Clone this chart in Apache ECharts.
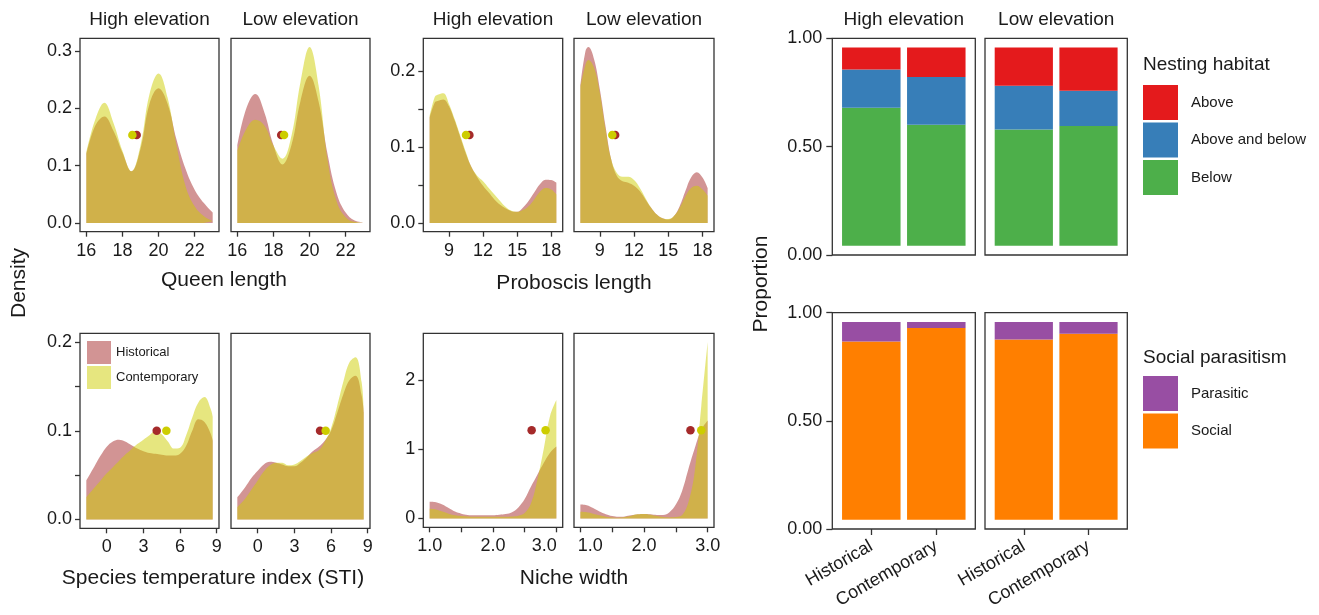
<!DOCTYPE html>
<html>
<head>
<meta charset="utf-8">
<script src="https://cdn.jsdelivr.net/npm/echarts@6/dist/echarts.min.js"></script>
<style>html,body{margin:0;padding:0;background:#fff}#c{width:1319px;height:615px}</style>
</head>
<body>
<div id="c"></div>
<script>
// ---------------- DATA ----------------
const periods = ['Historical', 'Contemporary'];
const elevations = ['High elevation', 'Low elevation'];

// Queen length densities
const queenX = [16,16.5,17,17.5,18,18.5,19,19.5,20,20.5,21,21.5,22,22.5,23];
const queenHighHist = [0.120,0.170,0.186,0.161,0.123,0.090,0.129,0.208,0.235,0.208,0.145,0.094,0.058,0.035,0.018];
const queenHighCont = [0.123,0.181,0.210,0.175,0.126,0.090,0.135,0.225,0.261,0.219,0.135,0.064,0.029,0.012,0.003];
const queenLowHist  = [0.135,0.200,0.225,0.193,0.136,0.102,0.136,0.213,0.257,0.212,0.120,0.052,0.018,0.004,0.001];
const queenLowCont  = [0.126,0.164,0.180,0.170,0.135,0.112,0.152,0.246,0.307,0.240,0.110,0.038,0.010,0.002,0.001];
const queenMeans = { high: [18.79, 18.55], low: [18.43, 18.59] }; // [historical, contemporary]

// Proboscis length densities
const probX = [7.3,7.75,8,8.5,9,9.5,10,10.5,11,11.5,12,12.5,13,13.5,14,14.5,15,15.5,16,16.5,17,17.5,18,18.45];
const probHighHist = [0.139,0.159,0.161,0.163,0.154,0.135,0.113,0.091,0.073,0.060,0.049,0.040,0.031,0.024,0.019,0.0155,0.0146,0.020,0.029,0.040,0.051,0.057,0.0565,0.053];
const probHighCont = [0.141,0.166,0.169,0.171,0.157,0.137,0.115,0.093,0.073,0.062,0.055,0.046,0.0375,0.029,0.021,0.016,0.0146,0.017,0.022,0.031,0.041,0.046,0.044,0.0375];
const probLowHist  = [0.181,0.227,0.232,0.216,0.177,0.128,0.084,0.062,0.055,0.053,0.049,0.042,0.031,0.020,0.011,0.006,0.0044,0.009,0.022,0.042,0.060,0.067,0.060,0.046];
const probLowCont  = [0.179,0.209,0.215,0.205,0.172,0.124,0.084,0.066,0.061,0.061,0.0565,0.0465,0.033,0.020,0.011,0.006,0.005,0.009,0.020,0.035,0.046,0.049,0.044,0.036];
const probMeans = { high: [10.8, 10.5], low: [10.35, 10.1] };

// Species temperature index densities
const stiX = [-1.67,-1,-0.5,0,0.5,1,1.5,2,2.5,3,3.5,4,4.5,5,5.5,6,6.5,7,7.5,8,8.5,8.67];
const stiHighHist = [0.044,0.060,0.072,0.082,0.088,0.090,0.088,0.084,0.080,0.077,0.075,0.074,0.073,0.072,0.072,0.074,0.083,0.100,0.113,0.110,0.097,0.089];
const stiHighCont = [0.025,0.036,0.044,0.052,0.059,0.066,0.073,0.079,0.085,0.090,0.095,0.100,0.096,0.088,0.080,0.081,0.095,0.115,0.132,0.138,0.125,0.116];
const stiLowHist  = [0.025,0.037,0.047,0.055,0.062,0.065,0.064,0.062,0.060,0.060,0.064,0.070,0.077,0.082,0.089,0.100,0.120,0.141,0.157,0.162,0.140,0.121];
const stiLowCont  = [0.014,0.024,0.034,0.044,0.054,0.061,0.064,0.064,0.061,0.062,0.066,0.071,0.075,0.078,0.088,0.103,0.128,0.155,0.177,0.183,0.155,0.121];
const stiMeans = { high: [4.09, 4.88], low: [5.1, 5.56] };

// Niche width densities
const nicheX = [1.0,1.1,1.2,1.3,1.4,1.5,1.6,1.7,1.8,1.9,2.0,2.1,2.2,2.3,2.4,2.5,2.6,2.7,2.8,2.9,3.0];
const nicheHighHist = [0.24,0.235,0.20,0.15,0.10,0.07,0.05,0.045,0.045,0.045,0.048,0.055,0.065,0.09,0.16,0.28,0.46,0.63,0.80,0.95,1.04];
const nicheHighCont = [0.14,0.13,0.10,0.07,0.045,0.035,0.03,0.025,0.025,0.025,0.025,0.025,0.025,0.028,0.04,0.08,0.22,0.56,1.00,1.48,1.71];
const nicheLowHist  = [0.20,0.19,0.15,0.10,0.06,0.035,0.025,0.03,0.045,0.06,0.065,0.06,0.05,0.05,0.09,0.20,0.40,0.72,1.02,1.28,1.415];
const nicheLowCont  = [0.096,0.09,0.07,0.045,0.025,0.015,0.012,0.02,0.04,0.06,0.066,0.055,0.035,0.02,0.015,0.02,0.05,0.24,0.70,1.62,2.545];
const nicheMeans = { high: [2.61, 2.83], low: [2.73, 2.9] };

// Tick values / labels
const queenXTicks = [16,18,20,22];
const queenYTicks = [0,0.1,0.2,0.3];
const probXTicks = [9,12,15,18];
const probYTicks = [0,0.05,0.1,0.15,0.2];
const probYLabels = [0,0.1,0.2];
const stiXTicks = [0,3,6,9];
const stiYTicks = [0,0.05,0.1,0.15,0.2];
const stiYLabels = [0,0.1,0.2];
const nicheXTicks = [1,1.5,2,2.5,3];
const nicheXLabels = [1,2,3];
const nicheYTicks = [0,1,2];
const propTicks = [0,0.5,1];

// Nesting habitat proportions [Historical, Contemporary]
const habitatNames = ['Above', 'Above and below', 'Below'];
const nestHigh = { 'Below': [0.697,0.610], 'Above and below': [0.192,0.242], 'Above': [0.111,0.148] };
const nestLow  = { 'Below': [0.586,0.604], 'Above and below': [0.222,0.178], 'Above': [0.192,0.218] };
// Social parasitism proportions [Historical, Contemporary]
const socialNames = ['Parasitic', 'Social'];
const socHigh = { 'Social': [0.901,0.970], 'Parasitic': [0.099,0.030] };
const socLow  = { 'Social': [0.911,0.941], 'Parasitic': [0.089,0.059] };

// ---------------- STYLE ----------------
const FONT = '"Liberation Sans", Arial, Helvetica, sans-serif';
const TXT = '#1a1a1a';
const AX = '#333333';
const HIST_C = '#A52A2A';
const CONT_C = '#CDCD00';
const HAB_COL = { 'Above': '#E41A1C', 'Above and below': '#377EB8', 'Below': '#4DAF4A' };
const SOC_COL = { 'Parasitic': '#984EA3', 'Social': '#FF7F00' };
const TICK_FS = 18;

const grids = [], xAxes = [], yAxes = [], series = [];

function densityRange(maxV) { return [-0.05 * maxV, 1.05 * maxV]; }
function xRange(xs) { const a = xs[0], b = xs[xs.length - 1], p = (b - a) * 0.05; return [a - p, b + p]; }

const richBase = { fontSize: TICK_FS, color: TXT, fontFamily: FONT };
const tickRich = {
  sl: Object.assign({ padding: [0, 24, 0, 0] }, richBase),  // nudged left
  sr: Object.assign({ padding: [0, 0, 0, 20] }, richBase)   // nudged right
};

function densityPanel(box, xs, hist, cont, means, yMaxData, cfg, showY) {
  const i = grids.length;
  grids.push({ left: box[0], top: box[1], width: box[2], height: box[3], show: true,
    borderColor: AX, borderWidth: 1.3, backgroundColor: 'transparent', containLabel: false });
  const xr = xRange(xs), yr = densityRange(yMaxData);
  xAxes.push({ type: 'value', gridIndex: i, min: xr[0], max: xr[1],
    axisLine: { show: false, onZero: false }, splitLine: { show: false },
    axisTick: { show: true, length: 5, lineStyle: { color: AX, width: 1.3 }, customValues: cfg.xTicks },
    axisLabel: { show: true, customValues: cfg.xLabels || cfg.xTicks, formatter: cfg.xFmt, rich: tickRich,
      fontSize: TICK_FS, color: TXT, margin: 10, fontFamily: FONT } });
  yAxes.push({ type: 'value', gridIndex: i, min: yr[0], max: yr[1],
    axisLine: { show: false, onZero: false }, splitLine: { show: false },
    axisTick: { show: showY, length: 5, lineStyle: { color: AX, width: 1.3 }, customValues: cfg.yTicks },
    axisLabel: { show: showY, customValues: cfg.yLabels || cfg.yTicks, formatter: cfg.yFmt,
      fontSize: TICK_FS, color: TXT, margin: 8, fontFamily: FONT } });
  const base = { type: 'line', xAxisIndex: i, yAxisIndex: i, smooth: 0.4, symbol: 'none', showSymbol: false,
    lineStyle: { width: 0, opacity: 0 }, silent: true, emphasis: { disabled: true } };
  series.push(Object.assign({}, base, { name: 'Historical', z: 2,
    data: xs.map((x, k) => [x, hist[k]]),
    itemStyle: { color: 'rgba(165,42,42,0.5)' }, areaStyle: { color: HIST_C, opacity: 0.5 } }));
  series.push(Object.assign({}, base, { name: 'Contemporary', z: 3,
    data: xs.map((x, k) => [x, cont[k]]),
    itemStyle: { color: 'rgba(205,205,0,0.5)' }, areaStyle: { color: CONT_C, opacity: 0.5 } }));
  const dotY = yMaxData / 2;
  series.push({ type: 'scatter', name: 'Historical mean', xAxisIndex: i, yAxisIndex: i, z: 4, silent: true,
    symbolSize: 8.5, data: [[means[0], dotY]], itemStyle: { color: HIST_C, opacity: 1 } });
  series.push({ type: 'scatter', name: 'Contemporary mean', xAxisIndex: i, yAxisIndex: i, z: 5, silent: true,
    symbolSize: 8.5, data: [[means[1], dotY]], itemStyle: { color: CONT_C, opacity: 1 } });
}

function barPanel(box, layers, names, colors, showY, showX) {
  // frame grid: border + visible axes (discrete scale expanded 0.6 on each side)
  const fi = grids.length;
  grids.push({ left: box[0], top: box[1], width: box[2], height: box[3], show: true,
    borderColor: AX, borderWidth: 1.3, backgroundColor: 'transparent', containLabel: false });
  const pos = periods.map((p, k) => k + 1);
  xAxes.push({ type: 'value', gridIndex: fi, min: 0.4, max: 2.6,
    axisLine: { show: false, onZero: false }, splitLine: { show: false },
    axisTick: { show: showX, length: 6, lineStyle: { color: AX, width: 1.3 }, customValues: pos },
    axisLabel: { show: showX, customValues: pos, formatter: v => periods[Math.round(v) - 1],
      rotate: 30, fontSize: TICK_FS, color: TXT, margin: 16, fontFamily: FONT } });
  yAxes.push({ type: 'value', gridIndex: fi, min: 0, max: 1,
    axisLine: { show: false, onZero: false }, splitLine: { show: false },
    axisTick: { show: showY, length: 6, lineStyle: { color: AX, width: 1.3 }, customValues: propTicks },
    axisLabel: { show: showY, customValues: propTicks, formatter: v => v.toFixed(2),
      fontSize: TICK_FS, color: TXT, margin: 10, fontFamily: FONT } });
  // inner data grid: spans the category bands (0.5 .. 2.5 of the frame scale)
  const ii = grids.length;
  const inset = box[2] * 0.1 / 2.2;
  grids.push({ left: box[0] + inset, top: box[1], width: box[2] - 2 * inset, height: box[3], show: false, containLabel: false });
  xAxes.push({ type: 'category', gridIndex: ii, data: periods, show: false });
  yAxes.push({ type: 'value', gridIndex: ii, min: -0.047, max: 1.047, show: false });
  names.slice().reverse().forEach(n => {
    series.push({ type: 'bar', name: n, stack: 'st' + ii, xAxisIndex: ii, yAxisIndex: ii,
      barWidth: '90%', silent: true, data: layers[n].slice(),
      itemStyle: { color: colors[n] } });
  });
}

const qMax = Math.max(...queenHighHist, ...queenHighCont, ...queenLowHist, ...queenLowCont);
const pMax = Math.max(...probHighHist, ...probHighCont, ...probLowHist, ...probLowCont);
const sMax = 0.2;
const nMax = Math.max(...nicheHighHist, ...nicheHighCont, ...nicheLowHist, ...nicheLowCont);

const f1 = v => v.toFixed(1);
const queenCfg = { xTicks: queenXTicks, xFmt: v => String(v), yTicks: queenYTicks, yFmt: f1 };
const probCfg  = { xTicks: probXTicks, xFmt: v => String(v), yTicks: probYTicks, yLabels: probYLabels, yFmt: f1 };
const stiCfg   = { xTicks: stiXTicks, xFmt: v => String(v), yTicks: stiYTicks, yLabels: stiYLabels, yFmt: f1 };
const nicheHighCfg = { xTicks: nicheXTicks, xLabels: nicheXLabels, yTicks: nicheYTicks, yFmt: v => String(v),
  xFmt: v => v === 3 ? '{sl|' + f1(v) + '}' : f1(v) };
const nicheLowCfg = { xTicks: nicheXTicks, xLabels: nicheXLabels, yTicks: nicheYTicks, yFmt: v => String(v),
  xFmt: v => v === 1 ? '{sr|' + f1(v) + '}' : f1(v) };

densityPanel([80, 38.3, 139, 193.4], queenX, queenHighHist, queenHighCont, queenMeans.high, qMax, queenCfg, true);
densityPanel([231, 38.3, 139, 193.4], queenX, queenLowHist, queenLowCont, queenMeans.low, qMax, queenCfg, false);
densityPanel([423.3, 38.3, 139.4, 193.4], probX, probHighHist, probHighCont, probMeans.high, pMax, probCfg, true);
densityPanel([574, 38.3, 140, 193.4], probX, probLowHist, probLowCont, probMeans.low, pMax, probCfg, false);
densityPanel([80, 333.3, 139, 195], stiX, stiHighHist, stiHighCont, stiMeans.high, sMax, stiCfg, true);
densityPanel([231, 333.3, 139, 195], stiX, stiLowHist, stiLowCont, stiMeans.low, sMax, stiCfg, false);
densityPanel([423.3, 333.3, 139.4, 194], nicheX, nicheHighHist, nicheHighCont, nicheMeans.high, nMax, nicheHighCfg, true);
densityPanel([574, 333.3, 140, 194], nicheX, nicheLowHist, nicheLowCont, nicheMeans.low, nMax, nicheLowCfg, false);

barPanel([832.3, 38.3, 143, 216.7], nestHigh, habitatNames, HAB_COL, true, false);
barPanel([985, 38.3, 142.3, 216.7], nestLow, habitatNames, HAB_COL, false, false);
barPanel([832.3, 312.7, 143, 216.3], socHigh, socialNames, SOC_COL, true, true);
barPanel([985, 312.7, 142.3, 216.3], socLow, socialNames, SOC_COL, false, true);

function txt(x, y, s, size, opts) {
  return Object.assign({ type: 'text', x: x, y: y, silent: true,
    style: { text: s, fontSize: size, fontFamily: FONT, fill: TXT,
      align: (opts && opts.align) || 'center', verticalAlign: 'middle' } },
    opts && opts.rotation ? { rotation: opts.rotation } : {});
}

const graphics = [
  txt(149.5, 20, elevations[0], 19), txt(300.5, 20, elevations[1], 19),
  txt(493, 20, elevations[0], 19), txt(644, 20, elevations[1], 19),
  txt(903.8, 20, elevations[0], 19), txt(1056.2, 20, elevations[1], 19),
  txt(224, 280, 'Queen length', 21), txt(574, 283, 'Proboscis length', 21),
  txt(213, 578, 'Species temperature index (STI)', 21), txt(574, 578, 'Niche width', 21),
  txt(19, 283, 'Density', 21, { rotation: Math.PI / 2 }),
  txt(761, 284, 'Proportion', 21, { rotation: Math.PI / 2 }),
  txt(1143, 65, 'Nesting habitat', 19, { align: 'left' }),
  txt(1143, 357.5, 'Social parasitism', 19, { align: 'left' })
];

const legends = [
  { data: periods.map((p, k) => ({ name: p, icon: 'rect',
      itemStyle: { color: k === 0 ? 'rgba(165,42,42,0.5)' : 'rgba(205,205,0,0.5)' } })),
    orient: 'vertical', left: 87, top: 341, itemWidth: 24, itemHeight: 23, itemGap: 2, padding: 0,
    selectedMode: false, textStyle: { fontSize: 13, color: TXT, fontFamily: FONT } },
  { data: habitatNames.map(n => ({ name: n, icon: 'rect' })),
    orient: 'vertical', left: 1143, top: 85, itemWidth: 35, itemHeight: 35, itemGap: 2.5, padding: 0,
    selectedMode: false, textStyle: { fontSize: 15, color: TXT, fontFamily: FONT, padding: [0, 0, 0, 8] } },
  { data: socialNames.map(n => ({ name: n, icon: 'rect' })),
    orient: 'vertical', left: 1143, top: 376, itemWidth: 35, itemHeight: 35, itemGap: 2.5, padding: 0,
    selectedMode: false, textStyle: { fontSize: 15, color: TXT, fontFamily: FONT, padding: [0, 0, 0, 8] } }
];

const chart = echarts.init(document.getElementById('c'), null, { renderer: 'canvas' });
chart.setOption({
  animation: false,
  backgroundColor: '#ffffff',
  textStyle: { fontFamily: FONT },
  grid: grids, xAxis: xAxes, yAxis: yAxes, series: series,
  legend: legends, graphic: graphics
});
</script>
</body>
</html>
